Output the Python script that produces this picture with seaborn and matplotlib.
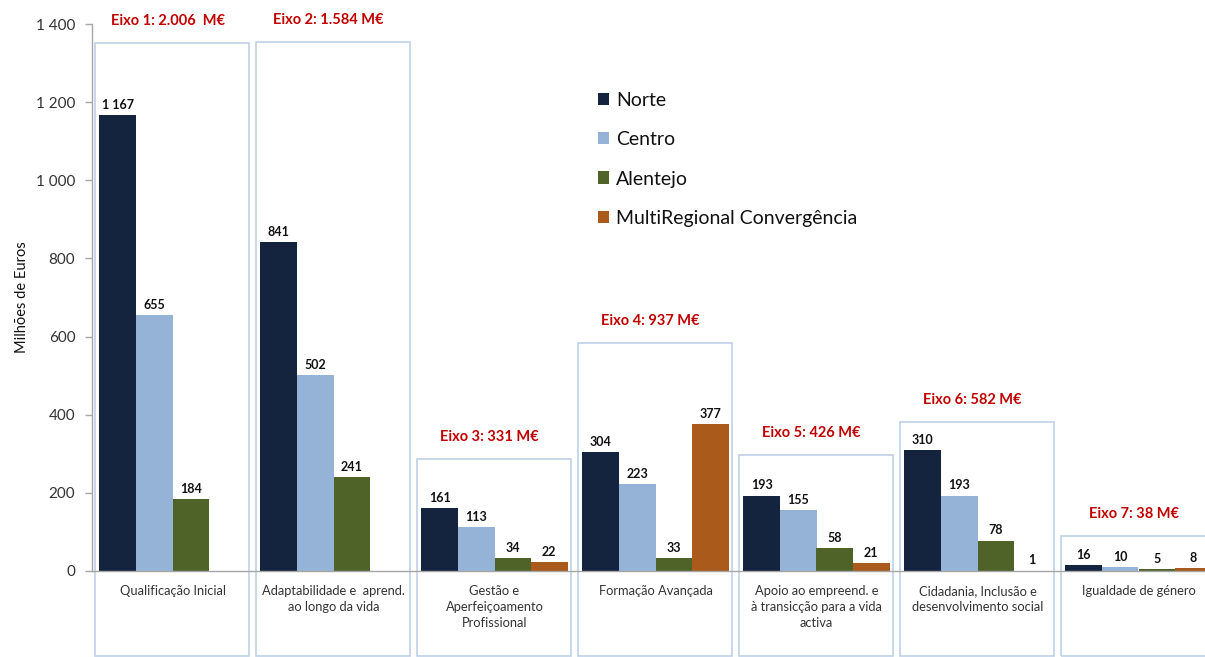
import matplotlib
matplotlib.use("Agg")
import matplotlib.pyplot as plt
import seaborn as sns
import pandas as pd
import numpy as np
from matplotlib.patches import Rectangle

# Programme axes (x categories)
categories = [
    "Qualificação Inicial",
    "Adaptabilidade e  aprend.\nao longo da vida",
    "Gestão e\nAperfeiçoamento\nProfissional",
    "Formação Avançada",
    "Apoio ao empreend. e\nà transicção para a vida\nactiva",
    "Cidadania, Inclusão e\ndesenvolvimento social",
    "Igualdade de género",
]
regions = ["Norte", "Centro", "Alentejo", "MultiRegional Convergência"]

# Values in millions of euros (None = no allocation)
norte = [1167, 841, 161, 304, 193, 310, 16]
centro = [655, 502, 113, 223, 155, 193, 10]
alentejo = [184, 241, 34, 33, 58, 78, 5]
multiregional = [None, None, 22, 377, 21, 1, 8]

# Axis headers and totals
eixo_labels = [
    "Eixo 1: 2.006  M€", "Eixo 2: 1.584 M€", "Eixo 3: 331 M€", "Eixo 4: 937 M€",
    "Eixo 5: 426 M€", "Eixo 6: 582 M€", "Eixo 7: 38 M€",
]
# Height of the frame drawn around each group (data units)
frame_tops = [1352, 1354, 287, 584, 296, 382, 90]

y_ticks = [0, 200, 400, 600, 800, 1000, 1200, 1400]

colors = ["#14243f", "#95b3d7", "#4f6228", "#aa5a1a"]

rows = []
for reg, vals in zip(regions, [norte, centro, alentejo, multiregional]):
    for cat, v in zip(categories, vals):
        if v is not None:
            rows.append({"cat": cat, "region": reg, "value": v})
df = pd.DataFrame(rows)

sns.set_theme(style="white")
plt.rcParams["font.family"] = ["Lato", "DejaVu Sans"]

fig = plt.figure(figsize=(12.05, 6.57), dpi=100)
ax = fig.add_axes([92 / 1205, 86 / 657, 1127 / 1205, 547 / 657])

sns.barplot(data=df, x="cat", y="value", hue="region", order=categories,
            hue_order=regions, palette=colors, width=0.907, errorbar=None,
            saturation=1, ax=ax, legend=False, linewidth=0)

def fmt(v):
    return f"{v:,.0f}".replace(",", " ")

for cont in ax.containers:
    ax.bar_label(cont, labels=[fmt(v) for v in cont.datavalues], padding=3,
                 fontsize=9, fontweight="bold", color="#111111")

ax.set_xlim(-0.5, len(categories) - 0.5)
ax.set_ylim(0, 1400)
ax.set_yticks(y_ticks)
ax.set_yticklabels([fmt(t) for t in y_ticks], fontsize=11, color="#333333")
ax.set_ylabel("Milhões de Euros", fontsize=10.5, color="#111111", labelpad=5)
ax.set_xlabel("")
ax.set_xticks(range(len(categories)))
ax.set_xticklabels(categories, fontsize=9.3, color="#333333", linespacing=1.4,
                   va="top")
ax.tick_params(axis="x", length=0, pad=10)
ax.set_xticks(np.arange(-0.5, len(categories), 1), minor=True)
ax.tick_params(axis="x", which="minor", length=5, color="#a6a6a6", width=1,
               direction="inout")
ax.tick_params(axis="y", length=5, color="#a6a6a6", width=1, direction="out",
               left=True, pad=7)

for s in ["top", "right"]:
    ax.spines[s].set_visible(False)
for s in ["left", "bottom"]:
    ax.spines[s].set_color("#a6a6a6")
    ax.spines[s].set_linewidth(1)

# Frames around each axis group with their headers
bottom = -217
for i, (top, lab) in enumerate(zip(frame_tops, eixo_labels)):
    x0 = i - 0.5 + 0.02
    w = 1 - 0.045
    ax.add_patch(Rectangle((x0, bottom), w, top - bottom, fill=False,
                           edgecolor="#b9cde5", linewidth=1.1, clip_on=False,
                           zorder=0.5))
    ax.annotate(lab, xy=(i - 0.03, top), xytext=(0, 15),
                textcoords="offset pixels", ha="center", va="bottom",
                fontsize=10.5, fontweight="bold", color="#c00000",
                annotation_clip=False)

handles = [Rectangle((0, 0), 1, 1, facecolor=c, edgecolor="none") for c in colors]
leg = ax.legend(handles, regions, loc="upper left",
                bbox_to_anchor=((590 - 92) / 1127, (571 - 84) / 547),
                frameon=False, fontsize=14, handlelength=0.6, handleheight=0.6,
                handletextpad=0.35, labelspacing=1.15, borderaxespad=0)
for t in leg.get_texts():
    t.set_color("#111111")

fig.savefig("out.png", dpi=100)
